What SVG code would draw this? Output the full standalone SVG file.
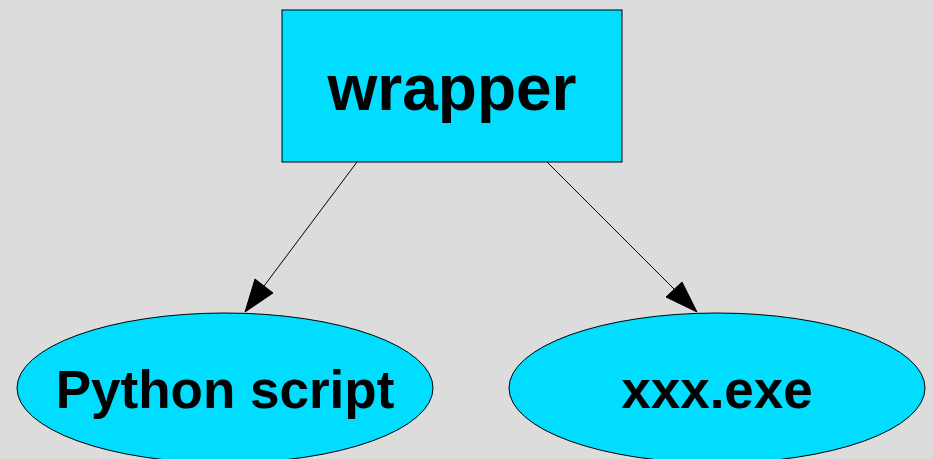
<svg xmlns="http://www.w3.org/2000/svg" width="933" height="459" viewBox="0 0 933 459">
  <style>
    .node { fill: #00ddff; stroke: #000000; stroke-width: 1; }
    .label { font-family: "Liberation Sans", Arial, sans-serif; font-weight: bold; fill: #000000; text-anchor: middle; }
    .edge { stroke: #000000; stroke-width: 1; fill: none; }
    .head { fill: #000000; stroke: #000000; stroke-width: 1; }
  </style>
  <rect width="933" height="459" fill="#dcdcdc"/>
  <g id="edges">
    <line class="edge" x1="357" y1="162" x2="264" y2="286"/>
    <polygon class="head" points="245,312 255,279 273,293"/>
    <line class="edge" x1="547" y1="162" x2="674" y2="289"/>
    <polygon class="head" points="697,312 666,297 682,282"/>
  </g>
  <g id="wrapper">
    <rect class="node" x="282" y="10" width="340" height="152"/>
    <text class="label" x="452" y="110" font-size="64">wrapper</text>
  </g>
  <g id="python_script">
    <ellipse class="node" cx="225" cy="388" rx="208" ry="75"/>
    <text class="label" x="225" y="408" font-size="53">Python script</text>
  </g>
  <g id="xxx_exe">
    <ellipse class="node" cx="717" cy="388" rx="208" ry="75"/>
    <text class="label" x="717" y="408" font-size="53">xxx.exe</text>
  </g>
</svg>
